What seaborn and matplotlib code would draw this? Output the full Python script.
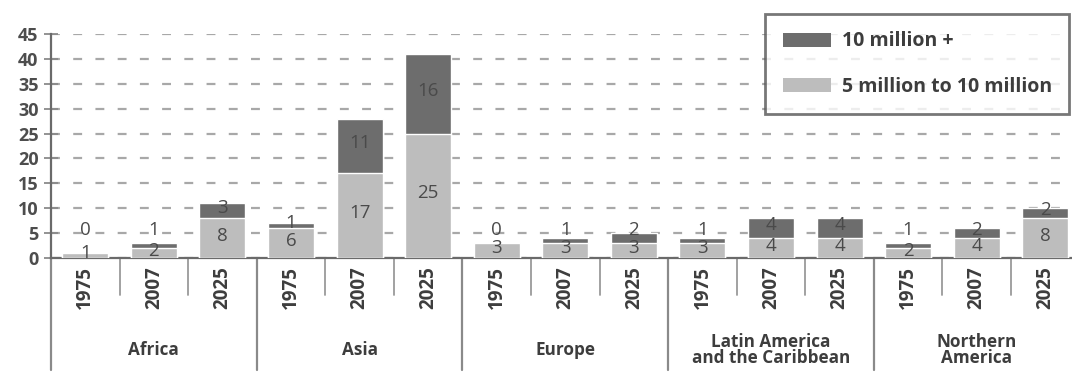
import numpy as np
import pandas as pd
import matplotlib
matplotlib.use("Agg")
import matplotlib.pyplot as plt
from matplotlib.patches import Patch
import seaborn as sns

# ---- data ----
regions = ["Africa", "Asia", "Europe", "Latin America\nand the Caribbean", "Northern\nAmerica"]
years = ["1975", "2007", "2025"]
five_to_ten = [1, 2, 8, 6, 17, 25, 3, 3, 3, 3, 4, 4, 2, 4, 8]
ten_plus = [0, 1, 3, 1, 11, 16, 0, 1, 2, 1, 4, 4, 1, 2, 2]
legend_labels = ["10 million +", "5 million to 10 million"]
y_ticks = list(range(0, 50, 5))

DARK = "#6d6d6d"
LIGHT = "#bdbdbd"
TXT = "#4a4a4a"

sns.set_theme(style="white")
plt.rcParams["font.family"] = ["Open Sans", "DejaVu Sans"]

keys = [f"{r}|{y}" for r in regions for y in years]
df = pd.DataFrame({
    "bar": keys,
    "light": five_to_ten,
    "dark": ten_plus,
})
df["total"] = df["light"] + df["dark"]

fig = plt.figure(figsize=(10.72, 3.73), dpi=100)
ax = fig.add_axes([51 / 1072, 1 - 258 / 373, 1 - 51 / 1072, 224 / 373])

sns.barplot(data=df, x="bar", y="total", order=keys, color=DARK, saturation=1,
            width=0.67, ax=ax, zorder=3)
sns.barplot(data=df, x="bar", y="light", order=keys, color=LIGHT, saturation=1,
            width=0.67, ax=ax, zorder=3)

ax.set_ylim(0, 45)
ax.set_xlim(-0.5, 14.39)
ax.set_xlabel("")
ax.set_ylabel("")

# grid
ax.set_yticks(y_ticks)
ax.yaxis.grid(True, linestyle=(0, (4, 6)), color="#a8a8a8", linewidth=1.6, zorder=0)
ax.xaxis.grid(False)
ax.set_axisbelow(True)
ax.tick_params(axis="y", which="major", direction="inout", length=10, width=1.3,
               color="#8a8a8a", labelsize=13, labelcolor="#4d4d4d", pad=4, left=True)
for t in ax.get_yticklabels():
    t.set_fontweight("bold")

# x tick labels
ax.set_xticks(range(len(keys)))
ax.set_xticklabels([k.split("|")[1] for k in keys], rotation=90, fontsize=13.5,
                   fontweight="bold", color="#3d3d3d")
ax.tick_params(axis="x", length=0, pad=6)

for s in ["top", "right"]:
    ax.spines[s].set_visible(False)
ax.spines["left"].set_color("#6a6a6a")
ax.spines["left"].set_linewidth(1.6)
ax.spines["bottom"].set_color("#6a6a6a")
ax.spines["bottom"].set_linewidth(1.6)

trans = ax.get_xaxis_transform()
n = len(years)
for i in range(len(keys)):
    b = i + 0.5
    if (i + 1) % n == 0:
        continue
    ax.plot([b, b], [0, -0.165], transform=trans, color="#9a9a9a", lw=1.3, clip_on=False)
for g in range(len(regions)):
    b = g * n - 0.5
    ax.plot([b, b], [0, -0.50], transform=trans, color="#8a8a8a", lw=1.6, clip_on=False)
    ax.text(g * n + (n - 1) / 2, -0.41, regions[g], transform=trans, ha="center",
            va="center", fontsize=12.3, fontweight="bold", color="#3d3d3d",
            linespacing=0.85)

# value labels
for i, (l, d) in enumerate(zip(five_to_ten, ten_plus)):
    ax.text(i, l / 2 + 0.5, str(l), ha="center", va="center", fontsize=13.5,
            color=TXT, zorder=5)
    ax.text(i, max(l + d / 2 + 0.6, 5.7), str(d), ha="center", va="center",
            fontsize=13.5, color=TXT, zorder=5)

handles = [Patch(facecolor=DARK, edgecolor="none"), Patch(facecolor=LIGHT, edgecolor="none")]
leg = fig.legend(handles, legend_labels, loc="upper left",
                 bbox_to_anchor=(765 / 1072, 1 - 14 / 373), frameon=True, fancybox=False,
                 prop={"weight": "bold", "size": 14}, handlelength=2.5, handleheight=0.72,
                 labelspacing=1.3, borderpad=0.9, handletextpad=0.55, borderaxespad=0)
leg.get_frame().set_edgecolor("#555555")
leg.get_frame().set_linewidth(2)
for t in leg.get_texts():
    t.set_color("#3d3d3d")

fig.savefig("out.png", dpi=100, facecolor="white")
